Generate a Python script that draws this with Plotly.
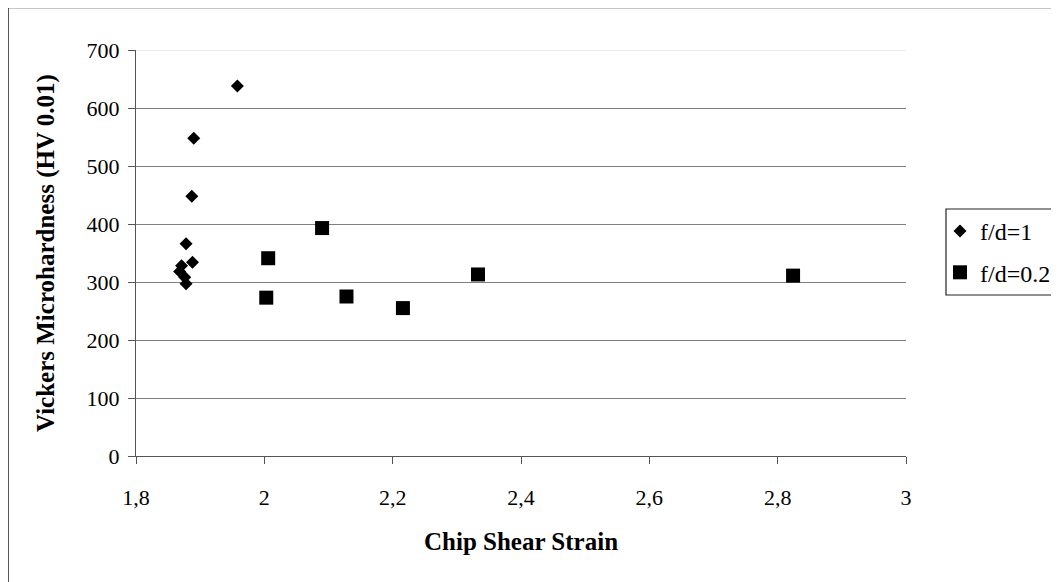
import plotly.graph_objects as go

# Data
fd1_strain = [1.958, 1.890, 1.887, 1.878, 1.888, 1.871, 1.868, 1.876, 1.878]
fd1_hv = [638, 548, 448, 366, 334, 328, 318, 308, 297]

fd02_strain = [2.090, 2.006, 2.003, 2.128, 2.216, 2.333, 2.824]
fd02_hv = [393, 341, 273, 275, 255, 313, 311]

x_ticks = [1.8, 2.0, 2.2, 2.4, 2.6, 2.8, 3.0]
y_ticks = [0, 100, 200, 300, 400, 500, 600, 700]

W, H = 1059, 582
OFF = 8  # page body margin
L_REF, T_REF = 136, 50          # plot area top-left in page pixels
pw, ph = 770, 406
L, T = L_REF - OFF, T_REF - OFF
R = W - L - pw
B = H - T - ph
Y0_REF = T_REF + ph

def px2x(px):
    return (px - L_REF) / pw

def py2y(py):
    return (Y0_REF - py) / ph

FONT = "Liberation Serif, Times New Roman, serif"
AX = "#555555"
GRID = "#808080"

fig = go.Figure()
fig.add_trace(go.Scatter(
    x=fd1_strain, y=fd1_hv, mode="markers", name="f/d=1",
    legendgroup="a",
    marker=dict(symbol="diamond", size=10, color="black", line=dict(width=0)),
))
fig.add_trace(go.Scatter(
    x=fd02_strain, y=fd02_hv, mode="markers", name="f/d=0.2",
    legendgroup="b",
    marker=dict(symbol="square", size=14, color="black", line=dict(width=0)),
))

fig.update_layout(
    width=W, height=H,
    margin=dict(l=L, r=R, t=T, b=B, autoexpand=False),
    paper_bgcolor="white", plot_bgcolor="white",
    separators=", ",
    font=dict(family=FONT, size=22, color="black"),
    showlegend=True,
    legend=dict(
        x=px2x(940), y=py2y(209), xanchor="left", yanchor="top",
        borderwidth=0, bgcolor="rgba(0,0,0,0)",
        font=dict(family=FONT, size=24, color="black"),
        tracegroupgap=7, traceorder="grouped",
        itemwidth=30,
    ),
    xaxis=dict(
        range=[1.8, 3.0], tickvals=x_ticks, showgrid=False, zeroline=False,
        showline=True, linecolor=AX, linewidth=1.3,
        ticks="outside", ticklen=7, tickcolor=AX, tickwidth=1,
        ticklabelstandoff=14,
        tickfont=dict(family=FONT, size=22, color="black"),
    ),
    yaxis=dict(
        range=[0, 700], tickvals=y_ticks, showgrid=True, gridcolor=GRID,
        gridwidth=1.3, zeroline=False,
        showline=True, linecolor=AX, linewidth=1.3,
        ticks="outside", ticklen=7, tickcolor=AX, tickwidth=1,
        ticklabelstandoff=4,
        tickfont=dict(family=FONT, size=22, color="black"),
    ),
    annotations=[
        dict(text="<b>Chip Shear Strain</b>", xref="paper", yref="paper",
             x=0.5, y=py2y(541), xanchor="center", yanchor="middle",
             showarrow=False, font=dict(family=FONT, size=25, color="black")),
        dict(text="<b>Vickers Microhardness (HV 0.01)</b>", xref="paper", yref="paper",
             x=px2x(46), y=py2y(253), xanchor="center", yanchor="middle",
             textangle=-90, showarrow=False,
             font=dict(family=FONT, size=25, color="black")),
    ],
    shapes=[
        # faint top gridline at 700
        dict(type="line", xref="paper", yref="y", x0=0, x1=1, y0=700, y1=700,
             line=dict(color="#e6e6e6", width=1.3), layer="above"),
        # outer chart frame (cut at right and bottom)
        dict(type="rect", xref="paper", yref="paper",
             x0=px2x(8), x1=px2x(1090), y0=py2y(620), y1=py2y(7.5),
             line=dict(color="#222222", width=1.5), fillcolor="rgba(0,0,0,0)",
             layer="below"),
        # legend box
        dict(type="rect", xref="paper", yref="paper",
             x0=px2x(946), x1=px2x(1090), y0=py2y(295), y1=py2y(209),
             line=dict(color="#222222", width=1.2), fillcolor="white",
             layer="below"),
    ],
)

fig.write_html("out.html")
